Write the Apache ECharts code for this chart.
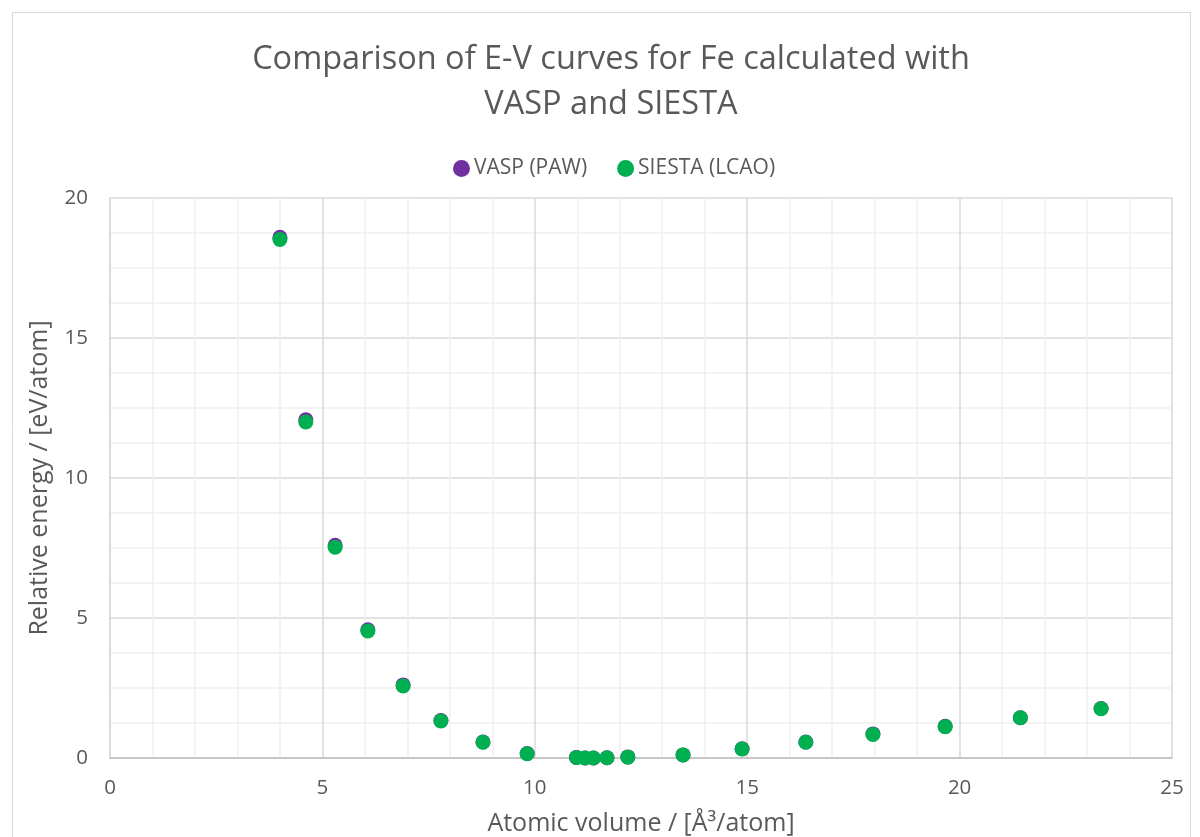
<!DOCTYPE html>
<html><head><meta charset="utf-8">
<script src="https://cdn.jsdelivr.net/npm/echarts@6/dist/echarts.min.js"></script>
<style>html,body{margin:0;padding:0;background:#fff}#c{width:1200px;height:837px}</style>
</head><body><div id="c"></div>
<script>
const volumes = [4.00, 4.61, 5.30, 6.07, 6.90, 7.79, 8.78, 9.82, 10.98, 11.18, 11.38, 11.70, 12.19, 13.49, 14.88, 16.38, 17.96, 19.66, 21.43, 23.33];
const vaspEnergy = [18.60, 12.08, 7.60, 4.58, 2.61, 1.34, 0.57, 0.16, 0.02, 0.00, 0.00, 0.01, 0.04, 0.11, 0.33, 0.57, 0.86, 1.13, 1.44, 1.77];
const siestaEnergy = [18.52, 12.00, 7.53, 4.54, 2.57, 1.32, 0.56, 0.15, 0.02, 0.00, 0.00, 0.01, 0.03, 0.11, 0.32, 0.56, 0.84, 1.12, 1.44, 1.76];
const xTicks = [0, 5, 10, 15, 20, 25];
const yTicks = [0, 5, 10, 15, 20];

const font = 'Open Sans, Noto Sans, sans-serif';
const txt = '#595959';
const chart = echarts.init(document.getElementById('c'));
chart.setOption({
  animation: false,
  graphic: [{type:'rect', shape:{x:12.5, y:12.5, width:1178, height:830}, style:{fill:'none', stroke:'#d9d9d9', lineWidth:1}, silent:true}],
  title: {
    text: 'Comparison of E-V curves for Fe calculated with\nVASP and SIESTA',
    left: 606, top: 32, padding: 5,
    textAlign: 'center',
    textStyle: {fontFamily: font, fontSize: 32.5, fontWeight: 'normal', color: txt, lineHeight: 45}
  },
  legend: {
    top: 153, left: 448, itemGap: 30, itemWidth: 17, itemHeight: 17,
    icon: 'circle',
    textStyle: {fontFamily: font, fontSize: 21, color: txt, padding:[0,0,0,-1]},
    data: ['VASP (PAW)', 'SIESTA (LCAO)']
  },
  grid: {left: 110, right: 28, top: 198, bottom: 79, containLabel: false, outerBoundsMode: 'none'},
  xAxis: {
    type: 'value', min: 0, max: 25, interval: 5,
    name: 'Atomic volume / [Å³/atom]', nameLocation: 'middle', nameGap: 53,
    nameTextStyle: {fontFamily: font, fontSize: 25, color: txt},
    axisLine: {show: true, lineStyle: {color: '#bfbfbf', width: 1.5}},
    axisTick: {show: false},
    axisLabel: {fontFamily: font, fontSize: 20.5, color: txt, margin: 20,
      formatter: v => xTicks.includes(v) ? String(v) : ''},
    splitLine: {show: true, lineStyle: {color: '#d9d9d9', width: 1.5}},
    minorTick: {show: false, splitNumber: 5},
    minorSplitLine: {show: true, lineStyle: {color: '#efefef', width: 1.5}}
  },
  yAxis: {
    type: 'value', min: 0, max: 20, interval: 5,
    name: 'Relative energy / [eV/atom]', nameLocation: 'middle', nameGap: 58,
    nameTextStyle: {fontFamily: font, fontSize: 25, color: txt},
    axisLine: {show: true, lineStyle: {color: '#d9d9d9', width: 1.5}},
    axisTick: {show: false},
    axisLabel: {fontFamily: font, fontSize: 20.5, color: txt, margin: 22,
      formatter: v => yTicks.includes(v) ? String(v) : ''},
    splitLine: {show: true, lineStyle: {color: '#d9d9d9', width: 1.5}},
    minorTick: {show: false, splitNumber: 4},
    minorSplitLine: {show: true, lineStyle: {color: '#efefef', width: 1.5}}
  },
  series: [
    {name: 'VASP (PAW)', type: 'scatter', symbolSize: 15,
     itemStyle: {color: '#7030a0', opacity: 1},
     data: volumes.map((v, i) => [v, vaspEnergy[i]])},
    {name: 'SIESTA (LCAO)', type: 'scatter', symbolSize: 15,
     itemStyle: {color: '#00b050', opacity: 1},
     data: volumes.map((v, i) => [v, siestaEnergy[i]])}
  ]
});
</script></body></html>
